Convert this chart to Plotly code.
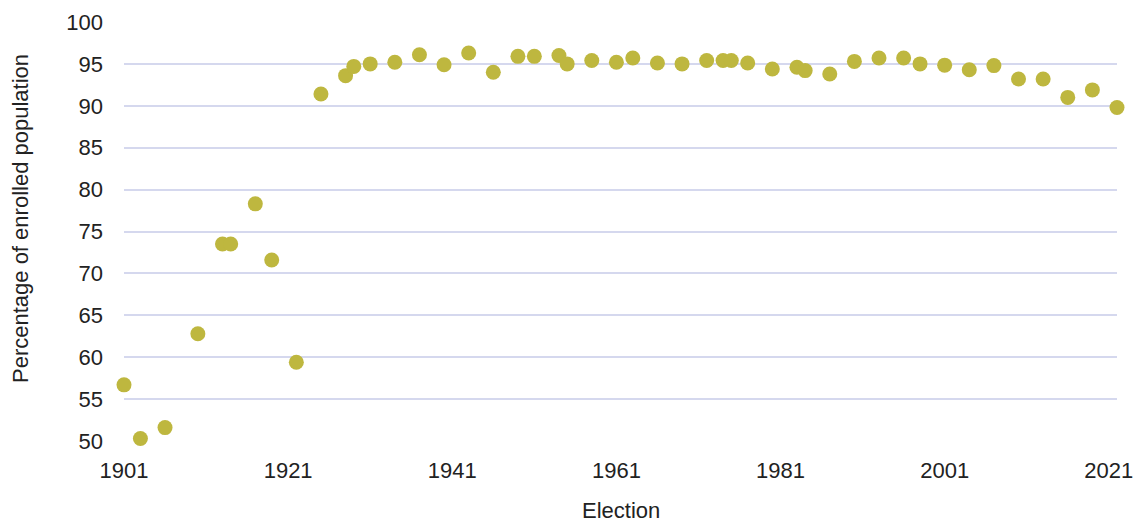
import plotly.graph_objects as go

years = [1901, 1903, 1906, 1910, 1913, 1914, 1917, 1919, 1922, 1925, 1928, 1929,
         1931, 1934, 1937, 1940, 1943, 1946, 1949, 1951, 1954, 1955, 1958, 1961,
         1963, 1966, 1969, 1972, 1974, 1975, 1977, 1980, 1983, 1984, 1987, 1990,
         1993, 1996, 1998, 2001, 2004, 2007, 2010, 2013, 2016, 2019, 2022]
turnout = [56.7, 50.3, 51.6, 62.8, 73.5, 73.5, 78.3, 71.6, 59.4, 91.4, 93.6, 94.7,
           95.0, 95.2, 96.1, 94.9, 96.3, 94.0, 95.9, 95.9, 96.0, 95.0, 95.4, 95.2,
           95.7, 95.1, 95.0, 95.4, 95.4, 95.4, 95.1, 94.4, 94.6, 94.2, 93.8, 95.3,
           95.7, 95.7, 95.0, 94.85, 94.3, 94.8, 93.2, 93.2, 91.0, 91.9, 89.8]
x_ticks = [1901, 1921, 1941, 1961, 1981, 2001, 2021]
y_ticks = [50, 55, 60, 65, 70, 75, 80, 85, 90, 95, 100]

FONT = "Liberation Sans"
W, H = 1141, 522
L, R, T, B = 124, 24, 22, 81

fig = go.Figure(go.Scatter(
    x=years, y=turnout, mode="markers",
    marker=dict(color="#BEB73F", size=15, line=dict(width=0)),
    cliponaxis=False, hoverinfo="x+y"))

fig.update_layout(
    width=W, height=H,
    margin=dict(l=L, r=R, t=T, b=B, autoexpand=False),
    plot_bgcolor="white", paper_bgcolor="white",
    showlegend=False,
    font=dict(family=FONT, color="#222222"),
    xaxis=dict(range=[1901, 2022], tickvals=x_ticks, showgrid=False,
               zeroline=False, showline=False, ticks="", automargin=False,
               ticklabelstandoff=14,
               tickfont=dict(size=22, family=FONT, color="#222222")),
    yaxis=dict(range=[50, 100], tickvals=y_ticks, showgrid=True,
               gridcolor="#D5D8EE", gridwidth=1.5, zeroline=False,
               showline=False, ticks="", ticklabelstandoff=20, automargin=False,
               tickfont=dict(size=22, family=FONT, color="#222222")),
    annotations=[
        dict(text="Election", xref="paper", yref="paper",
             x=0.5, y=-(510 - (H - B)) / (H - T - B), xanchor="center", yanchor="middle",
             showarrow=False, font=dict(size=22, family=FONT, color="#222222")),
        dict(text="Percentage of enrolled population", xref="paper", yref="paper",
             x=-(L - 20) / (W - L - R), y=(H - B - 219) / (H - T - B),
             xanchor="center", yanchor="middle", textangle=-90,
             showarrow=False, font=dict(size=22, family=FONT, color="#222222")),
    ],
)

fig.write_html("out.html", config={"displayModeBar": False},
               post_script="document.body.style.margin='0';document.body.style.padding='0';")
